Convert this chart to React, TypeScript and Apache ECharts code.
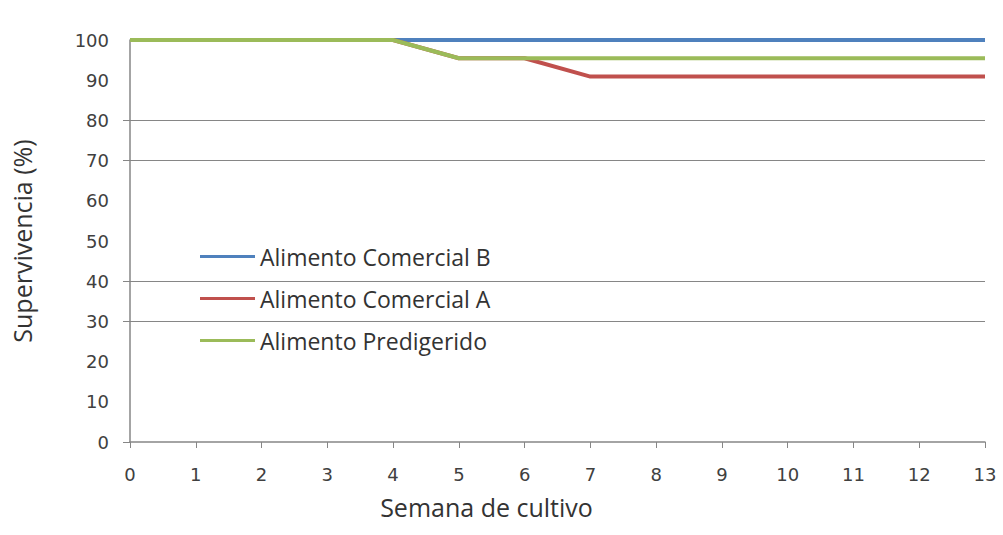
import React, { useEffect, useRef } from "react";
import * as echarts from "echarts";

// Weeks of culture (0..13) and survival percentages per feed type
const weeks = [0, 1, 2, 3, 4, 5, 6, 7, 8, 9, 10, 11, 12, 13];
const comercialB = [100, 100, 100, 100, 100, 100, 100, 100, 100, 100, 100, 100, 100, 100];
const comercialA = [100, 100, 100, 100, 100, 95.45, 95.45, 90.9, 90.9, 90.9, 90.9, 90.9, 90.9, 90.9];
const predigerido = [100, 100, 100, 100, 100, 95.45, 95.45, 95.45, 95.45, 95.45, 95.45, 95.45, 95.45, 95.45];

const seriesNames = ["Alimento Comercial B", "Alimento Comercial A", "Alimento Predigerido"];
const seriesColors = ["#4F81BD", "#C0504D", "#9BBB59"];

// Horizontal reference lines drawn across the plot
const gridValues = [30, 40, 70, 80];
const yTickValues = [0, 30, 40, 70, 80];

const FONT = "'Open Sans', 'Liberation Sans', sans-serif";
const TICK_FONT = "'DejaVu Sans', sans-serif";
const AXIS_GRAY = "#868686";

export default function App() {
  const ref = useRef<HTMLDivElement>(null);

  useEffect(() => {
    document.body.style.margin = "0";
    if (!ref.current) return;
    const chart = echarts.init(ref.current, undefined, { renderer: "svg" });

    const toPairs = (vals: number[]) => weeks.map((w, i) => [w, vals[i]]);
    const all = [comercialB, comercialA, predigerido];

    const lineSeries = seriesNames.map((name, i) => ({
      name,
      type: "line",
      data: toPairs(all[i]),
      showSymbol: false,
      symbol: "none",
      color: seriesColors[i],
      lineStyle: { width: 4, color: seriesColors[i] },
      z: 3 + i,
    }));

    chart.setOption({
      animation: false,
      backgroundColor: "#ffffff",
      textStyle: { fontFamily: FONT },
      grid: { left: 130, right: 18, top: 40, bottom: 93, containLabel: false },
      legend: {
        orient: "vertical",
        left: 195,
        top: 240,
        itemWidth: 55,
        itemHeight: 3,
        itemGap: 19,
        icon: "rect",
        data: seriesNames,
        textStyle: { fontFamily: FONT, fontSize: 23, color: "#333333" },
      },
      xAxis: {
        type: "value",
        min: 0,
        max: 13,
        interval: 1,
        name: "Semana de cultivo",
        nameLocation: "middle",
        nameGap: 52,
        nameTextStyle: { fontFamily: FONT, fontSize: 25, color: "#333", padding: [0, 142, 0, 0] },
        axisLine: { lineStyle: { color: AXIS_GRAY, width: 1.5 } },
        axisTick: { show: true, length: 6, lineStyle: { color: AXIS_GRAY } },
        axisLabel: { fontFamily: TICK_FONT, fontSize: 18, color: "#404040", margin: 23 },
        splitLine: { show: false },
      },
      yAxis: {
        type: "value",
        min: 0,
        max: 100,
        interval: 10,
        name: "Supervivencia (%)",
        nameLocation: "middle",
        nameGap: 96,
        nameRotate: 90,
        nameTextStyle: { fontFamily: FONT, fontSize: 25, color: "#333" },
        axisLine: { show: true, lineStyle: { color: AXIS_GRAY, width: 1.5 } },
        axisTick: {
          show: true,
          length: 7,
          customValues: yTickValues,
          lineStyle: { color: AXIS_GRAY },
        },
        axisLabel: { fontFamily: TICK_FONT, fontSize: 18, color: "#404040", margin: 21 },
        splitLine: { show: false },
      },
      series: [
        {
          name: "grid",
          type: "line",
          data: [],
          silent: true,
          z: 1,
          markLine: {
            silent: true,
            symbol: ["none", "none"],
            label: { show: false },
            lineStyle: { color: AXIS_GRAY, width: 1.2, type: "solid" },
            data: gridValues.map((v) => ({ yAxis: v })),
          },
        },
        ...lineSeries,
      ],
    });

    return () => chart.dispose();
  }, []);

  return <div ref={ref} style={{ width: 1003, height: 535 }} />;
}
